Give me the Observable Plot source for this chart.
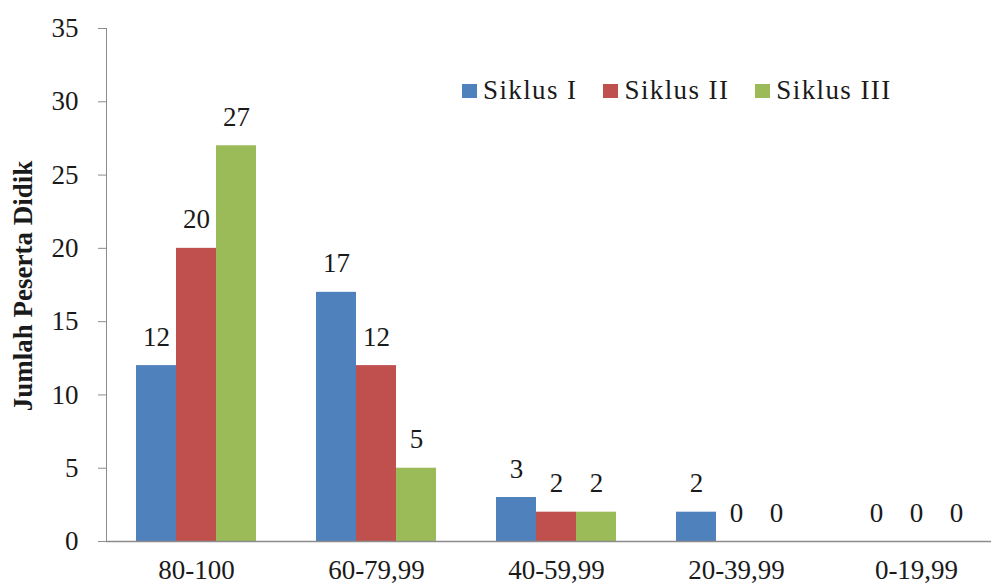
<!DOCTYPE html>
<html>
<head>
<meta charset="utf-8">
<script src="https://cdn.jsdelivr.net/npm/d3@7"></script>
<script src="https://cdn.jsdelivr.net/npm/@observablehq/plot@0.6"></script>
<style>
  html, body { margin: 0; padding: 0; background: #fff; overflow: hidden; }
  #wrap { position: relative; width: 991px; height: 585px; font-family: "Liberation Serif", serif; }
  #wrap svg text { fill: #1a1a1a; }
  #ytitle { position: absolute; left: 23px; top: 286px; width: 400px; margin-left: -200px; text-align: center;
            transform: translateY(-50%) rotate(-90deg); font-weight: bold; font-size: 27px; line-height: 27px; color: #1a1a1a; white-space: nowrap; }
  #legend { position: absolute; left: 462px; top: 75px; display: flex; align-items: center; font-size: 27px; letter-spacing: 1.4px; color: #1a1a1a; }
  #legend .item { display: flex; align-items: center; margin-right: 26px; }
  #legend .sw { width: 15px; height: 14px; margin-right: 6px; }
</style>
</head>
<body>
<div id="wrap"></div>
<script>
const categories = ["80-100", "60-79,99", "40-59,99", "20-39,99", "0-19,99"];
const seriesNames = ["Siklus I", "Siklus II", "Siklus III"];
const siklusI = [12, 17, 3, 2, 0];
const siklusII = [20, 12, 2, 0, 0];
const siklusIII = [27, 5, 2, 0, 0];
const seriesColors = ["#4F81BD", "#C0504D", "#9BBB59"];
const yTicks = [0, 5, 10, 15, 20, 25, 30, 35];
const yTitle = "Jumlah Peserta Didik";

const allSeries = [siklusI, siklusII, siklusIII];
const barW = 40;
const FONT = '"Liberation Serif", serif';

const marks = [];
allSeries.forEach((vals, i) => {
  marks.push(Plot.barY(vals, {
    x: categories, y: vals, fill: seriesColors[i],
    insetLeft: i * barW, insetRight: (2 - i) * barW
  }));
});
allSeries.forEach((vals, i) => {
  marks.push(Plot.text(vals, {
    x: categories, y: vals, text: vals.map(String),
    dx: (i - 1) * barW, dy: -20, lineAnchor: "bottom",
    fontSize: 27, fill: "#1a1a1a"
  }));
});
marks.push(Plot.ruleY([0], {stroke: "#8c8c8c", strokeWidth: 1.5}));

const chart = Plot.plot({
  width: 991,
  height: 585,
  marginTop: 28,
  marginBottom: 44,
  marginLeft: 106,
  marginRight: 0,
  style: {fontFamily: FONT, fontSize: "27px", color: "#8c8c8c", background: "#fff"},
  x: {domain: categories, range: [106, 1006], paddingInner: 1 / 3, paddingOuter: 1 / 6, tickSize: 0, tickPadding: 18, label: null},
  y: {domain: [0, 35], ticks: yTicks, tickSize: 8, tickPadding: 20, line: true, label: null, tickFormat: d => String(d)},
  marks
});
document.getElementById("wrap").appendChild(chart);

const t = document.createElement("div");
t.id = "ytitle";
t.textContent = yTitle;
document.getElementById("wrap").appendChild(t);

const lg = document.createElement("div");
lg.id = "legend";
seriesNames.forEach((name, i) => {
  const it = document.createElement("div");
  it.className = "item";
  const sw = document.createElement("span");
  sw.className = "sw";
  sw.style.background = seriesColors[i];
  const tx = document.createElement("span");
  tx.textContent = name;
  it.appendChild(sw); it.appendChild(tx);
  lg.appendChild(it);
});
document.getElementById("wrap").appendChild(lg);
</script>
</body>
</html>
